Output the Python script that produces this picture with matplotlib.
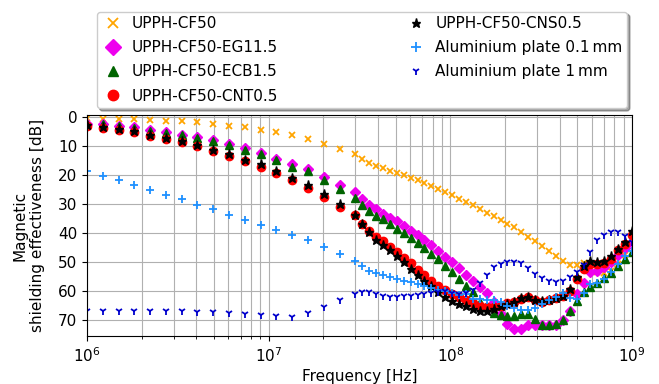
import matplotlib
matplotlib.use("Agg")
import matplotlib.pyplot as plt

# Frequency grid in MHz
freq_mhz = [1.0, 1.2215, 1.4921, 1.8226, 2.2263, 2.7195, 3.3219, 4.0577, 4.9566,
            6.0546, 7.3958, 9.034, 11.035, 13.48, 16.466, 20.113, 24.569, 30.0,
            32.75, 35.75, 39.02, 42.60, 46.50, 50.76, 55.41, 60.49, 66.03, 72.08,
            78.69, 85.90, 93.77, 102.36, 111.74, 121.97, 133.15, 145.35, 158.67,
            173.20, 189.08, 206.40, 225.31, 245.95, 268.48, 293.08, 319.93, 349.24,
            381.24, 416.18, 454.31, 495.92, 541.37, 590.96, 645.11, 704.21, 768.74,
            839.16, 916.07, 1000.0]

cf50 = [0.3, 0.7, 0.7, 0.7, 0.9, 1.2, 1.5, 1.8, 2.3, 2.9, 3.4, 4.3, 5.1, 6.3, 7.5, 9.2,
        11.0, 12.7, 14.4, 15.8, 16.9, 17.6, 18.4, 19.2, 20.0, 20.9, 21.8, 22.8, 23.8,
        24.8, 25.8, 26.9, 28.1, 29.2, 30.4, 31.5, 32.9, 34.0, 35.4, 36.7, 38.0, 39.7,
        41.2, 42.8, 44.3, 46.0, 47.7, 49.6, 50.9, 51.0, 50.3, 52.0, 53.4, 53.7, 52.9,
        50.6, 47.4, 42.0]

eg115 = [2.3, 2.3, 2.9, 3.4, 4.3, 5.1, 6.0, 7.0, 8.0, 9.3, 10.7, 12.3, 14.4, 16.1, 18.0,
         20.6, 23.2, 25.8, 28.3, 30.4, 31.7, 33.2, 34.6, 35.9, 37.5, 39.2, 40.7, 42.4,
         44.2, 46.0, 48.0, 50.0, 52.1, 54.3, 56.3, 58.6, 60.6, 63.7, 67.9, 71.1, 73.1,
         73.1, 71.7, 71.7, 71.7, 71.7, 71.5, 70.0, 66.6, 61.0, 57.0, 53.4, 53.1, 51.5,
         50.0, 47.4, 45.2, 43.5]

ecb15 = [2.5, 2.5, 3.0, 3.6, 4.7, 5.5, 6.3, 7.3, 8.3, 9.6, 11.2, 12.7, 14.9, 17.1, 18.7,
         21.8, 24.9, 27.7, 30.3, 32.3, 34.0, 35.2, 36.9, 38.4, 40.0, 41.6, 43.2, 45.2,
         47.2, 48.9, 51.2, 53.4, 55.7, 58.0, 60.3, 63.5, 65.4, 67.4, 68.3, 68.5, 68.5,
         67.9, 67.7, 69.6, 71.5, 71.7, 71.4, 70.0, 66.8, 63.2, 60.3, 58.6, 57.0, 55.5,
         53.6, 51.3, 48.9, 46.6]

cnt05 = [3.0, 3.6, 4.3, 5.1, 6.6, 7.5, 8.7, 9.9, 11.7, 13.3, 15.2, 17.1, 19.2, 21.8, 24.4,
         27.5, 30.8, 33.8, 36.7, 39.2, 41.2, 42.8, 44.6, 46.6, 48.4, 50.4, 52.5, 54.4,
         56.4, 58.0, 59.5, 61.0, 62.0, 63.1, 63.9, 64.9, 65.4, 65.4, 64.9, 63.9, 63.5,
         62.6, 62.0, 62.8, 63.5, 63.1, 62.3, 61.7, 59.7, 55.7, 52.3, 50.6, 50.6, 50.2,
         48.9, 45.7, 43.7, 40.6]

cns05 = [2.6, 3.4, 4.0, 4.7, 6.2, 7.1, 8.3, 9.5, 11.2, 12.7, 14.6, 16.3, 18.4, 20.9, 23.2,
         26.3, 29.8, 33.6, 36.8, 39.7, 42.2, 44.0, 45.8, 47.7, 50.0, 52.2, 54.2, 56.4,
         58.2, 60.2, 62.1, 63.4, 64.3, 65.2, 66.0, 66.6, 66.9, 66.0, 65.2, 64.3, 63.5,
         62.3, 62.0, 62.8, 63.4, 63.0, 62.3, 61.7, 59.1, 55.1, 51.1, 49.7, 50.0, 49.4,
         47.7, 45.4, 42.9, 39.2]

al01 = [18.7, 20.3, 21.8, 23.5, 25.1, 26.8, 28.3, 30.3, 31.7, 33.6, 35.3, 37.0, 38.8, 40.6,
        42.4, 44.6, 47.2, 49.6, 51.4, 52.9, 53.8, 54.2, 54.9, 55.6, 56.3, 56.9, 57.6, 58.2,
        58.8, 59.4, 59.8, 60.6, 61.1, 61.0, 62.6, 62.6, 62.8, 63.1, 63.7, 64.9, 65.8, 66.4,
        66.4, 65.8, 64.3, 62.9, 62.1, 60.4, 62.2, 62.7, 60.6, 57.4, 57.1, 55.7, 53.4, 50.6,
        47.8, 46.0]

al1 = [66.6, 66.7, 66.7, 66.7, 66.8, 66.8, 66.9, 67.1, 67.2, 67.4, 67.8, 68.2, 68.5, 68.7,
       67.5, 65.5, 63.0, 61.0, 60.1, 60.1, 60.9, 61.7, 61.8, 61.8, 61.6, 61.6, 61.4, 61.0,
       60.4, 60.1, 60.0, 60.4, 60.8, 60.6, 59.5, 57.1, 54.4, 51.7, 50.6, 50.0, 49.8, 50.2,
       52.1, 54.0, 55.5, 56.3, 56.9, 56.5, 54.9, 53.4, 50.9, 46.6, 42.2, 40.6, 39.5, 39.7,
       40.9, 43.0]

labels = ["UPPH-CF50", "UPPH-CF50-EG11.5", "UPPH-CF50-ECB1.5", "UPPH-CF50-CNT0.5",
          "UPPH-CF50-CNS0.5", "Aluminium plate 0.1\u2009mm", "Aluminium plate 1\u2009mm"]

freq_hz = [f * 1e6 for f in freq_mhz]
series = [cf50, eg115, ecb15, cnt05, cns05, al01, al1]
styles = [
    dict(marker="x", color="orange", ms=5, mew=1.3),
    dict(marker="D", color="#ee00ee", ms=5.5, mew=1),
    dict(marker="^", color="darkgreen", ms=6, mew=1),
    dict(marker="o", color="red", ms=6, mew=1),
    dict(marker="*", color="black", ms=6.5, mew=1),
    dict(marker="+", color="#1e90ff", ms=6, mew=1.3),
    dict(marker="1", color="mediumblue", ms=6, mew=1.3),
]
legend_ms = [7.5, 8.5, 7.5, 7.5, 6.5, 6.5, 6.0]

plt.rcParams["font.family"] = ["DejaVu Sans"]
fig = plt.figure(figsize=(6.59, 3.84), dpi=100)
ax = fig.add_axes([0.132, 0.124, 0.827, 0.577])

for y, lab, st in zip(series, labels, styles):
    ax.plot(freq_hz, y, linestyle="none", label=lab, **st)

ax.set_xscale("log")
ax.set_xlim(1e6, 1e9)
ax.set_ylim(75.5, -0.8)
ax.set_yticks([0, 10, 20, 30, 40, 50, 60, 70])
ax.grid(True, which="both", color="#b0b0b0", linewidth=0.8)
ax.set_axisbelow(True)
ax.tick_params(labelsize=11)
ax.set_xlabel("Frequency [Hz]", fontsize=11, labelpad=3)
ax.set_ylabel("Magnetic\nshielding effectiveness [dB]", fontsize=11, labelpad=9)

leg = ax.legend(loc="lower left", bbox_to_anchor=(0.018, 1.03, 0.973, 0.3), mode="expand",
                ncol=2, fontsize=11, shadow=True, labelspacing=0.6, handlelength=1.5,
                handletextpad=0.5, borderpad=0.3, borderaxespad=0, fancybox=True,
                framealpha=1)
for h, ms in zip(leg.legend_handles, legend_ms):
    h.set_markersize(ms)

fig.savefig("out.png", dpi=100)
